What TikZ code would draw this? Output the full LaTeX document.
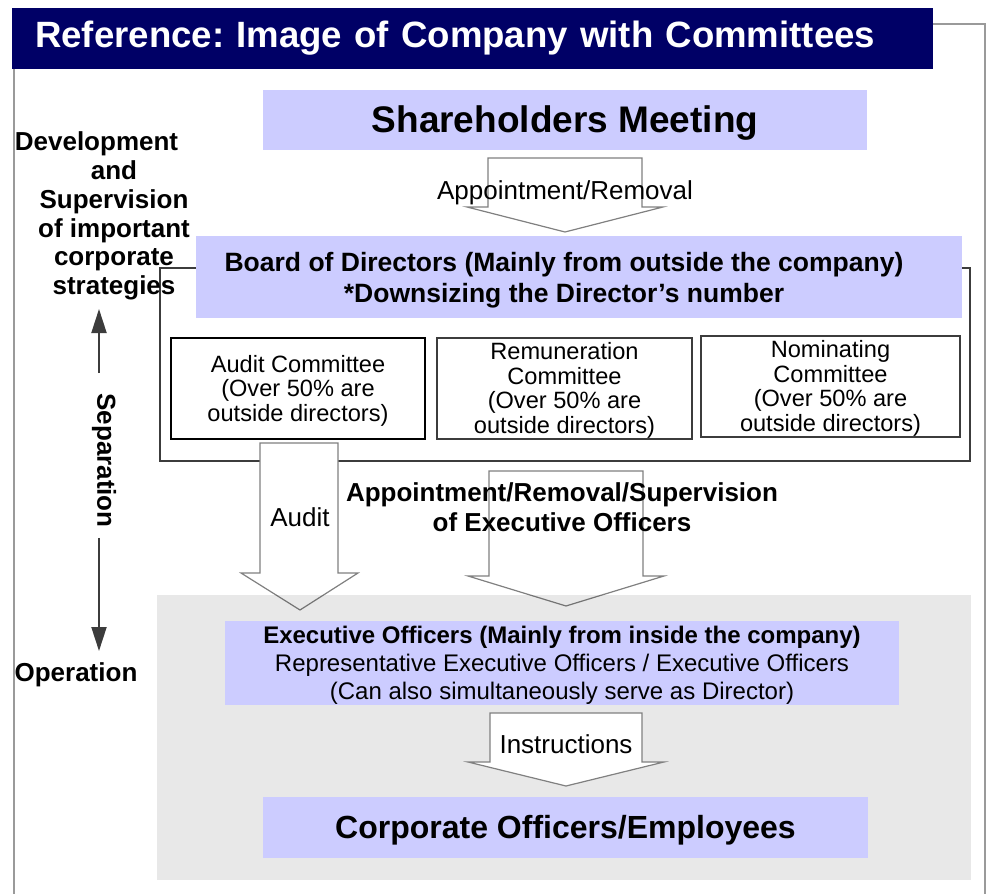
\documentclass[tikz,border=0pt]{standalone}
\usepackage{fontspec}
\setmainfont{Liberation Sans}
\usepackage{tikz}
\usetikzlibrary{positioning, arrows.meta, calc}
\usepackage{xcolor}
\frenchspacing

\definecolor{navy}{HTML}{000066}
\definecolor{lavender}{HTML}{CCCCFF}
\definecolor{framegray}{HTML}{9A9A9A}
\definecolor{edgegray}{HTML}{3C3C3C}
\definecolor{arrowgray}{HTML}{808080}

\newcommand{\fsz}[2]{\fontsize{#1}{#2}\selectfont}
% struts so that lines sit as in the slide
\newcommand{\linetop}{\rule{0pt}{0.905em}}
\newcommand{\linebot}{\rule[-0.212em]{0pt}{0.212em}}
\newcommand{\lineboth}{\rule[-0.212em]{0pt}{1.117em}}

\begin{document}
\begin{tikzpicture}[x=1pt, y=-1pt,
    bluebox/.style={fill=lavender, inner sep=0pt, align=center},
    committee/.style={draw=edgegray, line width=2pt, fill=white, inner sep=0pt, align=center, font=\fsz{23.6}{24.5}},
    blockarrow/.style={draw=arrowgray, line width=1.2pt, fill=white},
    sidetext/.style={font=\bfseries\fsz{26}{28.8}, align=center, inner sep=0pt},
    separrow/.style={draw=edgegray, line width=2pt, -{Triangle[length=24pt, width=15pt]}}]
    \useasboundingbox (0,0) rectangle (989,894);

    % Title
    \node[fill=navy, text=white, minimum height=61pt, text width=875pt, inner xsep=23pt, inner ysep=0pt,
          align=left, font=\bfseries\fsz{36.6}{40}, anchor=west] (title) at (12,38.5)
          {Reference: Image of Company with Committees};
    \draw[framegray, line width=2pt] (14,69) -- (14,894);
    \draw[framegray, line width=2pt] (933,24) -- (985,24) -- (985,894);

    % Shareholders
    \node[bluebox, minimum width=604pt, minimum height=60pt, font=\bfseries\fsz{37}{40}] (share) at (565,120) {\lineboth Shareholders Meeting};
    \draw[blockarrow] (488,158) -- (642,158) -- (642,207) -- (663,207) -- (565,232) -- (467,207) -- (488,207) -- cycle;
    \node[font=\fsz{26}{28}] (apptlabel) at (565,190) {\lineboth Appointment/Removal};

    % Board and committees
    \node[draw=edgegray, line width=2pt, minimum width=810pt, minimum height=193pt, inner sep=0pt] (boardframe) at (565,364.5) {};
    \node[bluebox, minimum width=766pt, minimum height=82pt] (board) at (579,277) {};
    \node[font=\bfseries\fsz{26.5}{31}, align=center, inner sep=0pt] (boardtext) at (564,277.5)
        {\linetop Board of Directors (Mainly from outside the company)\\\relax*Downsizing the Director’s number\linebot};
    \node[committee, draw=black, line width=2.6pt, minimum width=254pt, minimum height=101pt] (audit) at (298,388.5)
        {\linetop Audit Committee\\(Over 50\% are\\outside directors)\linebot};
    \node[committee, minimum width=255pt, minimum height=101pt] (remun) at (564.5,388.5)
        {\linetop Remuneration\\Committee\\(Over 50\% are\\outside directors)\linebot};
    \node[committee, minimum width=259pt, minimum height=101pt] (nomin) at (830.5,386.5)
        {\linetop Nominating\\Committee\\(Over 50\% are\\outside directors)\linebot};

    % Audit / supervision arrows
    \draw[blockarrow] (260,443) -- (338,443) -- (338,573) -- (358,573) -- (300,610) -- (241,573) -- (260,573) -- cycle;
    \draw[blockarrow] (489,471) -- (643,471) -- (643,576) -- (664,576) -- (566,606) -- (468,576) -- (489,576) -- cycle;
    \node[font=\fsz{26}{28}] (auditlabel) at (300,517) {Audit};
    \node[font=\bfseries\fsz{26}{30}, align=center] (superlabel) at (562,507)
        {Appointment/Removal/Supervision\\of Executive Officers};

    % Operation side
    \node[fill=black, fill opacity=0.09, minimum width=814pt, minimum height=285pt, inner sep=0pt] (opzone) at (564,737.5) {};
    \node[bluebox, minimum width=674pt, minimum height=84pt, font=\fsz{24}{28}] (exec) at (562,663)
        {\linetop\textbf{Executive Officers (Mainly from inside the company)}\\Representative Executive Officers / Executive Officers\\(Can also simultaneously serve as Director)\linebot};
    \draw[blockarrow] (490,713) -- (642,713) -- (642,762) -- (664,762) -- (566,786) -- (468,762) -- (490,762) -- cycle;
    \node[font=\fsz{26}{28}] (instr) at (566,744) {Instructions};
    \node[bluebox, minimum width=605pt, minimum height=61pt, font=\bfseries\fsz{32}{36}] (corp) at (565.5,827.5) {\lineboth Corporate Officers/Employees};

    % Separation
    \node[sidetext] (develop) at (114,216) {\hspace*{-35pt}Development\\and\\Supervision\\of important\\corporate\\strategies};
    \node[sidetext] (operation) at (76,675) {Operation};
    \node[sidetext, rotate=-90, inner xsep=20pt] (sep) at (104,460.5) {Separation};
    \coordinate (septop) at (99,309);
    \coordinate (sepbottom) at (99,651);
    \draw[separrow] (sep.west -| septop) -- (septop);
    \draw[separrow, shorten <=-10pt] (sep.east -| sepbottom) -- (sepbottom);
\end{tikzpicture}
\end{document}
